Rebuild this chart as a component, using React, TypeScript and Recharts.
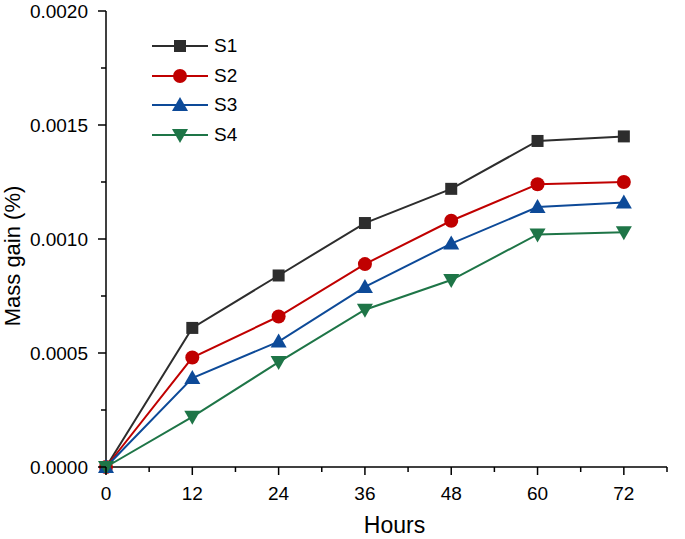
import React from 'react';
import { LineChart, Line, XAxis, YAxis, Label } from 'recharts';

const hours = [0, 12, 24, 36, 48, 60, 72];
const s1 = [0, 0.00061, 0.00084, 0.00107, 0.00122, 0.00143, 0.00145];
const s2 = [0, 0.00048, 0.00066, 0.00089, 0.00108, 0.00124, 0.00125];
const s3 = [0, 0.00039, 0.00055, 0.00079, 0.00098, 0.00114, 0.00116];
const s4 = [0, 0.00022, 0.00046, 0.00069, 0.00082, 0.00102, 0.00103];

const xTicks = [0, 6, 12, 18, 24, 30, 36, 42, 48, 54, 60, 66, 72, 78];
const yTicks = [0, 0.00025, 0.0005, 0.00075, 0.001, 0.00125, 0.0015, 0.00175, 0.002];

const series = [
  { key: 's1', name: 'S1', color: '#2d2d2d', shape: 'square' },
  { key: 's2', name: 'S2', color: '#c00000', shape: 'circle' },
  { key: 's3', name: 'S3', color: '#0d4a98', shape: 'up' },
  { key: 's4', name: 'S4', color: '#1e7547', shape: 'down' },
];

const data = hours.map((h, i) => ({ h, s1: s1[i], s2: s2[i], s3: s3[i], s4: s4[i] }));

const FONT = 'Liberation Sans, Arial, sans-serif';

const Marker = ({ shape, cx, cy, color }: any) => {
  if (shape === 'square') return <rect x={cx - 6} y={cy - 6} width={12} height={12} fill={color} />;
  if (shape === 'circle') return <circle cx={cx} cy={cy} r={7} fill={color} />;
  if (shape === 'up') return <path d={`M${cx},${cy - 8} L${cx + 8},${cy + 6} L${cx - 8},${cy + 6} Z`} fill={color} />;
  return <path d={`M${cx},${cy + 8} L${cx + 8},${cy - 6} L${cx - 8},${cy - 6} Z`} fill={color} />;
};

const XTick = ({ x, y, payload }: any) => {
  const major = payload.value % 12 === 0;
  return (
    <g>
      <line x1={x} x2={x} y1={y - 8} y2={y - 8 + (major ? 8 : 5)} stroke="#000" strokeWidth={1.5} />
      {major && (
        <text x={x} y={y + 25} textAnchor="middle" fontSize={19} fontFamily={FONT} fill="#000">
          {payload.value}
        </text>
      )}
    </g>
  );
};

const YTick = ({ x, y, payload }: any) => {
  const v = payload.value;
  const major = Math.abs(Math.round(v / 0.0005) * 0.0005 - v) < 1e-9;
  return (
    <g>
      <line x1={x + 8} x2={x + 8 - (major ? 8 : 5)} y1={y} y2={y} stroke="#000" strokeWidth={1.5} />
      {major && (
        <text x={x - 10} y={y + 7} textAnchor="end" fontSize={19} fontFamily={FONT} fill="#000">
          {v.toFixed(4)}
        </text>
      )}
    </g>
  );
};

const XLabel = ({ viewBox }: any) => (
  <text
    x={viewBox.x + viewBox.width / 2 + 8}
    y={viewBox.y + viewBox.height - 6}
    textAnchor="middle"
    fontSize={23}
    fontFamily={FONT}
    fill="#000"
  >
    Hours
  </text>
);

const YLabel = ({ viewBox }: any) => {
  const x = viewBox.x + 20;
  const y = viewBox.y + viewBox.height / 2 + 17;
  return (
    <text x={x} y={y} transform={`rotate(-90, ${x}, ${y})`} textAnchor="middle" fontSize={22} fontFamily={FONT} fill="#000">
      Mass gain (%)
    </text>
  );
};

const LegendBox = () => (
  <div style={{ position: 'absolute', left: 150, top: 31, fontFamily: FONT, fontSize: 19, color: '#000' }}>
    {series.map((s) => (
      <div key={s.key} style={{ display: 'flex', alignItems: 'center', height: 29.7 }}>
        <svg width={60} height={24}>
          <line x1={2} x2={58} y1={12} y2={12} stroke={s.color} strokeWidth={2} />
          <Marker shape={s.shape} cx={30} cy={12} color={s.color} />
        </svg>
        <span style={{ marginLeft: 4 }}>{s.name}</span>
      </div>
    ))}
  </div>
);

export default function App() {
  return (
    <div style={{ position: 'absolute', left: 0, top: 0, width: 685, height: 539, background: '#fff' }}>
      <LineChart width={685} height={539} data={data} margin={{ top: 11, right: 18, bottom: 0, left: 0 }}>
        <XAxis
          dataKey="h"
          type="number"
          domain={[0, 78]}
          ticks={xTicks}
          interval={0}
          height={72}
          axisLine={{ stroke: '#000', strokeWidth: 1.5 }}
          tickLine={false}
          tick={<XTick />}
        >
          <Label content={<XLabel />} />
        </XAxis>
        <YAxis
          type="number"
          domain={[0, 0.002]}
          ticks={yTicks}
          interval={0}
          width={106}
          axisLine={{ stroke: '#000', strokeWidth: 1.5 }}
          tickLine={false}
          tick={<YTick />}
        >
          <Label content={<YLabel />} />
        </YAxis>
        {series.map((s) => (
          <Line
            key={s.key}
            dataKey={s.key}
            name={s.name}
            type="linear"
            stroke={s.color}
            strokeWidth={2}
            isAnimationActive={false}
            activeDot={false}
            dot={(p: any) => <Marker key={`${s.key}-${p.index}`} shape={s.shape} cx={p.cx} cy={p.cy} color={s.color} />}
          />
        ))}
      </LineChart>
      <LegendBox />
    </div>
  );
}
